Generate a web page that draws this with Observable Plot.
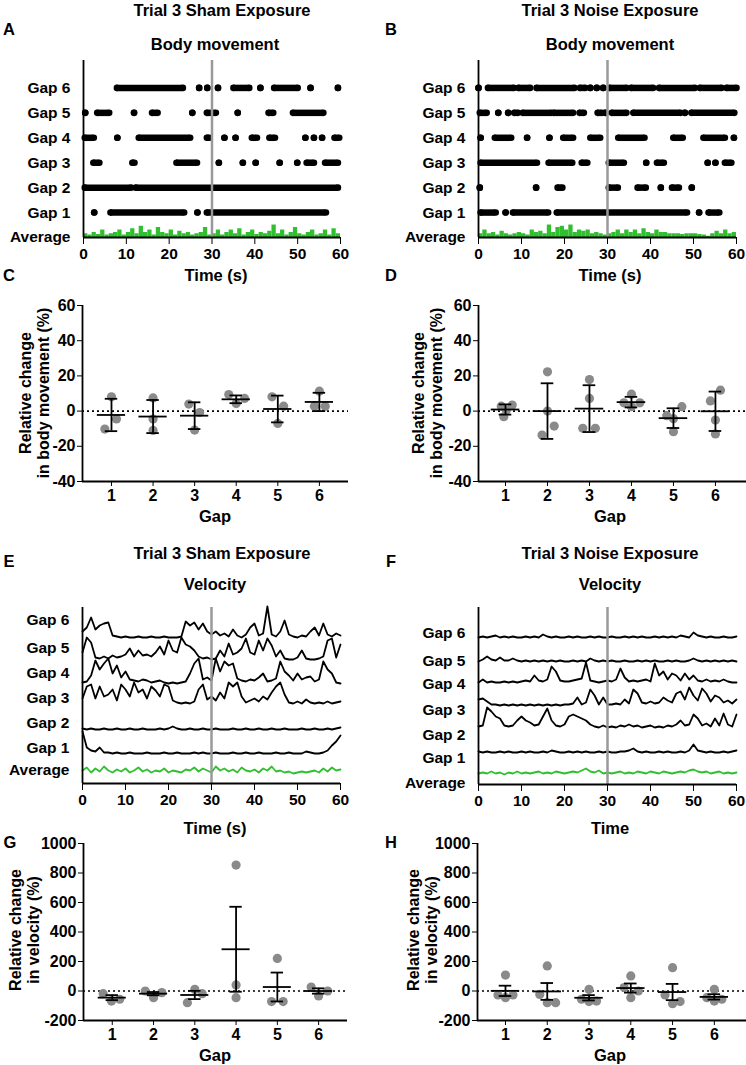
<!DOCTYPE html>
<html><head><meta charset="utf-8">
<script src="https://cdn.jsdelivr.net/npm/d3@7"></script>
<script src="https://cdn.jsdelivr.net/npm/@observablehq/plot@0.6"></script>
<style>
body{margin:0;background:#fff;}
#fig{position:relative;width:746px;height:1065px;font-family:"Liberation Sans",Arial,sans-serif;font-weight:bold;color:#000;overflow:hidden;background:#fff}
.t{position:absolute;white-space:nowrap;transform:translate(-50%,-50%);line-height:1.1;text-align:center}
</style></head><body><div id="fig"></div>
<script>
// ---------------- DATA ----------------
const rowNames = ["Average","Gap 1","Gap 2","Gap 3","Gap 4","Gap 5","Gap 6"];
const timeTicks = [0,10,20,30,40,50,60];
const stimulusTime = 30;
const gaps = [1,2,3,4,5,6];

// Body movement: runs of detected movement [start, end] in seconds
const shamMove = [
  [[2.5,2.5],[6.3,23.5],[26.6,26.6],[28.8,56.6]],                                   // Gap 1
  [[0.3,11.1],[12.2,59.4]],                                                           // Gap 2
  [[2.3,3.7],[11.4,11.9],[21.7,26.5],[31.6,31.6],[37.2,37.2],[40.2,40.2],[45.8,45.8],[49.9,49.9],[52.1,53.8],[56.4,59.4]], // Gap 3
  [[0.3,2.4],[7.9,7.9],[12.9,24.9],[28.8,29.4],[32.9,32.9],[35.5,35.5],[39.3,40.5],[43.4,44.7],[51.8,51.8],[53.8,53.8],[55.7,55.7],[58.6,59.7]], // Gap 4
  [[0.4,0.4],[3.2,6.0],[11.8,11.8],[16.0,17.3],[25.4,25.4],[28.8,30.9],[36.0,36.0],[43.2,44.3],[48.9,56.0]], // Gap 5
  [[7.8,23.2],[27.0,27.0],[28.9,28.9],[31.4,31.4],[35.0,38.7],[41.3,41.3],[44.5,50.0],[53.0,53.0],[59.4,59.4]] // Gap 6
];
const noiseMove = [
  [[0.5,4.0],[6.3,6.3],[8.0,16.2],[18.2,48.5],[51.3,51.3],[53.5,56.0]],              // Gap 1
  [[0.3,0.3],[13.4,13.4],[18.4,19.5],[30.3,32.4],[37.0,38.9],[42.4,42.4],[45.0,46.6],[49.6,49.6]], // Gap 2
  [[0.5,13.6],[16.3,21.8],[24.0,25.3],[30.3,33.8],[39.0,39.0],[41.5,43.1],[53.3,53.3],[55.1,55.1],[57.3,58.8]], // Gap 3
  [[0.5,0.5],[3.8,7.6],[11.3,11.3],[16.5,16.5],[19.7,22.0],[26.0,28.3],[32.5,38.6],[45.3,47.5],[52.3,57.3],[59.4,59.4]], // Gap 4
  [[0.3,1.9],[4.6,4.6],[6.9,6.9],[8.3,9.2],[10.3,16.9],[17.5,22.0],[23.5,24.5],[27.7,28.7],[29.5,29.5],[31.0,34.4],[36.0,47.0],[48.0,48.0],[49.5,59.5]], // Gap 5
  [[0,0],[2.2,8.2],[9.3,12.0],[13.5,22.3],[23.6,24.8],[26.0,26.0],[27.5,27.5],[29.0,29.0],[30.5,34.4],[35.5,40.6],[42.0,50.3],[51.5,56.5],[57.7,60.0]] // Gap 6
];
// Average movement (per second, row units)
const shamMoveAvg = [0.15,0.1,0.2,0.12,0.3,0.1,0.15,0.2,0.3,0.1,0.2,0.35,0.15,0.45,0.2,0.3,0.1,0.4,0.2,0.15,0.3,0.1,0.25,0.15,0.2,0.1,0.15,0.2,0.4,0.1,0.15,0.3,0.1,0.2,0.3,0.15,0.35,0.1,0.2,0.3,0.12,0.2,0.15,0.25,0.5,0.15,0.3,0.1,0.2,0.4,0.15,0.1,0.2,0.3,0.1,0.15,0.3,0.1,0.35,0.15];
const noiseMoveAvg = [0.15,0.3,0.15,0.2,0.1,0.25,0.15,0.1,0.15,0.2,0.15,0.1,0.3,0.2,0.25,0.15,0.5,0.2,0.4,0.45,0.3,0.5,0.2,0.3,0.25,0.3,0.15,0.2,0.15,0.1,0.15,0.2,0.3,0.15,0.3,0.2,0.3,0.15,0.35,0.2,0.15,0.3,0.2,0.2,0.15,0.15,0.15,0.12,0.15,0.15,0.15,0.12,0.1,0.05,0.15,0.25,0.15,0.3,0.15,0.2];

// Velocity traces (a.u., 1 sample per second, 0..60 s) — Average, Gap 1..6
const shamVelAvg = [5,8,3,7,4,9,5,3,6,4,7,3,5,8,4,6,3,5,4,7,3,5,4,3,6,5,8,4,7,5,3,9,5,7,4,6,3,8,5,4,6,3,7,5,9,4,5,3,4,2,3,4,3,4,5,3,7,4,8,5,6];
const shamVelG1 = [22,6,3,2,6,1,1,0,1,0,0,1,0,0,0,1,0,0,0,1,0,0,1,0,0,0,1,0,1,0,0,1,0,0,0,1,0,0,1,0,0,1,0,0,0,1,0,0,1,0,0,0,2,1,0,0,1,3,8,12,18];
const shamVelG2 = [1,0,1,0,0,1,0,0,1,0,0,1,0,0,1,0,0,0,1,0,1,3,1,0,0,1,0,0,1,0,0,1,0,0,0,1,0,0,1,0,0,1,0,0,1,0,0,1,0,0,0,1,0,0,1,0,0,1,0,1,2];
const shamVelG3 = [6,18,20,6,18,8,10,15,4,20,15,8,22,12,15,6,18,14,8,20,18,4,2,1,2,1,3,15,20,5,8,4,12,6,22,18,22,8,2,4,6,3,8,5,12,18,22,10,2,1,3,1,5,2,1,2,1,3,1,2,3];
const shamVelG4 = [1,2,8,23,14,20,25,10,18,6,12,4,3,2,4,3,1,2,3,1,0,1,0,1,2,10,20,25,4,6,3,25,12,22,18,20,5,3,2,4,3,6,10,2,3,5,22,12,8,3,10,4,6,7,2,4,22,14,10,1,0];
const shamVelG5 = [8,23,18,3,2,4,2,5,3,4,6,12,4,10,5,6,4,8,14,6,20,10,8,23,16,14,10,4,2,3,1,2,10,4,17,6,8,12,22,8,6,20,10,22,15,4,10,2,1,1,3,10,2,1,1,2,4,20,22,3,16];
const shamVelG6 = [6,10,20,8,12,14,15,2,1,0,1,0,0,1,0,0,1,0,0,1,0,0,0,1,16,12,15,8,14,6,3,6,2,4,1,8,2,0,3,10,14,2,4,31,3,1,6,17,3,1,0,2,1,6,10,2,14,3,1,4,2];
const noiseVelAvg = [3,4,3,5,3,4,2,4,3,5,3,4,3,4,5,3,4,3,5,4,3,4,5,4,6,8,5,4,6,3,4,3,4,5,3,4,3,5,4,3,5,4,3,5,4,3,4,5,4,6,7,5,4,5,3,4,5,3,4,3,4];
const noiseVelG1 = [1,0,1,0,0,1,0,1,0,0,1,0,1,0,0,1,0,2,1,0,0,1,0,1,0,1,0,0,1,0,1,0,0,1,1,2,4,1,0,1,0,0,1,0,1,0,0,1,0,2,8,2,1,0,1,0,0,1,0,1,2];
const noiseVelG2 = [2,3,21,17,12,10,3,2,3,8,12,8,6,3,4,12,20,8,3,2,4,12,14,12,10,8,4,2,1,3,1,2,1,3,2,4,2,3,1,2,3,1,2,1,3,2,4,8,3,4,14,10,3,5,2,10,3,15,4,2,14];
const noiseVelG3 = [6,7,4,1,1,0,1,0,1,0,1,0,1,0,1,0,1,0,1,0,1,1,2,8,1,3,16,10,1,8,1,1,2,1,6,2,16,12,3,2,4,2,3,8,5,3,12,14,6,18,10,5,17,12,4,10,8,3,5,2,6];
const noiseVelG4 = [1,4,1,2,1,1,2,1,2,1,2,3,2,8,3,2,4,17,12,3,2,2,3,4,5,21,3,2,1,2,3,2,4,15,6,2,3,2,3,4,2,20,8,12,4,10,8,3,10,4,8,3,2,4,2,3,2,4,2,1,1];
const noiseVelG5 = [0,2,5,2,1,4,1,1,3,1,0,1,0,1,0,1,0,1,0,1,0,0,1,0,1,0,3,1,0,1,0,1,0,0,1,0,0,1,0,1,0,1,0,0,1,0,1,0,0,1,3,1,0,1,0,1,0,1,0,1,0];
const noiseVelG6 = [0,1,0,1,2,0,1,0,1,0,0,1,0,1,0,3,1,0,1,0,0,1,0,1,0,0,1,0,1,0,0,1,0,0,1,0,1,0,1,0,0,1,0,1,0,1,0,2,1,0,5,2,1,0,1,0,0,1,0,0,1];
// vertical offsets of the stacked traces (a.u.) and row-label positions
const shamVelOffset = [8,30,54,79,100,123,146];
const shamVelLabelAt = [13,35,60,85,110,135,163];
const noiseVelOffset = [8,32,56,79,101,123,147];
const noiseVelLabelAt = [1,26,49,74,100,123,151];

// Relative change (%) — individual animals, horizontal jitter, mean, error bar
const shamBodyPts = [[8.1,-4.5,-10.2],[7.5,-4.5,-11],[4,-0.8,-10.8],[9.4,4.3,7.2],[8.1,2.8,-7],[11.3,2.8,2.8]];
const shamBodyJit = [[0,0.12,-0.16],[0,0,0],[-0.14,0.12,0],[-0.18,0,0.2],[-0.14,0.14,0],[0,-0.12,0.14]];
const shamBodyMean = [-2.2,-3.1,-2.6,6.7,1.2,5.2];
const shamBodyErr = [9.2,9.4,7.6,2.2,7.6,5.2];
const noiseBodyPts = [[2.8,3.4,-3.2,0.5],[22.3,0,-8.5,-13.6],[17.9,7.2,-9.8,-9.8],[9.6,4.7,4.7,2.5],[2.5,-2.6,-4.3,-11.7],[11.9,5.8,-5.1,-13]];
const noiseBodyJit = [[-0.1,0.16,-0.04,0.02],[0,0,0.16,-0.13],[0,0,-0.16,0.14],[0,-0.18,0.2,0],[0.2,-0.16,0,0],[0.12,-0.12,0,0]];
const noiseBodyMean = [0.9,0,1.4,5.1,-4,-0.1];
const noiseBodyErr = [2.9,15.8,13.3,3,5.6,11.2];
const shamVelPts = [[-18,-68,-56],[0,-45,-11],[-79,11,-18],[854,41,-45],[221,-72,-72],[27,-34,0]];
const shamVelJit = [[-0.22,-0.02,0.18],[-0.2,0,0.2],[-0.18,0,0.18],[0,0,0],[0,-0.14,0.14],[-0.18,0,0.22]];
const shamVelMean = [-45,-18,-27,283,27,0];
const shamVelErr = [17,11,28,288,98,18];
const noiseVelPts = [[108,-27,-27,-45],[170,-23,-79,-79],[11,-56,-68,-72],[102,23,0,-45],[158,-27,-86,-72],[11,-45,-56,-68]];
const noiseVelJit = [[0,-0.18,0.18,0],[0,-0.18,0,0.2],[0,-0.18,0.18,0],[0,-0.16,0.18,0],[0,-0.18,0,0.18],[0,-0.18,0.18,0]];
const noiseVelMean = [1,-3,-46,20,-7,-40];
const noiseVelErr = [35,57,18,31,55,18];

const bodyTicks = [-40,-20,0,20,40,60];
const velTicks = [-200,0,200,400,600,800,1000];

// ---------------- DRAWING ----------------
const fig = document.getElementById("fig");
const GREEN = "#2fbf2f";
const style = {fontFamily:'"Liberation Sans", Arial, sans-serif', fontWeight:"bold", fontSize:"15px", color:"#000", background:"none", overflow:"visible"};

function place(svg, left, top){ svg.style.position="absolute"; svg.style.left=left+"px"; svg.style.top=top+"px"; fig.appendChild(svg); }
function text(html, x, y, size, rot){
  const d=document.createElement("div"); d.className="t"; d.innerHTML=html;
  d.style.left=x+"px"; d.style.top=y+"px"; d.style.fontSize=size+"px";
  if(rot) d.style.transform="translate(-50%,-50%) rotate(-90deg)";
  fig.appendChild(d);
}

function movementPanel(runsByGap, avg, m){
  const runs = runsByGap.flatMap((list,gi)=>list.map(([s,e])=>({s,e,row:gi+1})));
  const ends = runs.flatMap(r=>[{t:r.s,row:r.row},{t:r.e,row:r.row}]);
  const bars = avg.map((v,i)=>({t:i,v}));
  return Plot.plot({
    width:373, height:230, marginTop:5, marginBottom:48, marginLeft:m.left, marginRight:m.right,
    x:{domain:[0,60]}, y:{domain:[0,7.1]}, style,
    marks:[
      Plot.rect(bars,{x1:"t",x2:d=>d.t+1,y1:0,y2:"v",fill:GREEN}),
      Plot.ruleY(runs,{x1:"s",x2:"e",y:"row",strokeWidth:6.5,stroke:"#000"}),
      Plot.dot(ends,{x:"t",y:"row",r:3.3,fill:"#000"}),
      Plot.ruleX([stimulusTime],{stroke:"#999",strokeWidth:2.5}),
      Plot.ruleX([0],{strokeWidth:1.8}),
      Plot.ruleY([0],{strokeWidth:1.8}),
      Plot.axisX({ticks:timeTicks,tickSize:7,tickPadding:3,tickFormat:String,label:null,fontSize:15.5}),
      Plot.axisY({ticks:[0,1,2,3,4,5,6],tickSize:0,tickPadding:13,tickFormat:i=>rowNames[i],label:null,fontSize:15.5})
    ]});
}

function velocityPanel(traces, offset, labelAt, yMax, m){
  const rows = traces.flatMap((arr,k)=>arr.map((v,t)=>({t, y:offset[k]+v, k})));
  return Plot.plot({
    width:373, height:215, marginTop:7, marginBottom:m.bottom, marginLeft:m.left, marginRight:m.right,
    x:{domain:[0,60]}, y:{domain:[0,yMax]}, style,
    marks:[
      Plot.line(rows.filter(d=>d.k===0),{x:"t",y:"y",stroke:GREEN,strokeWidth:1.8}),
      Plot.line(rows.filter(d=>d.k>0),{x:"t",y:"y",z:"k",stroke:"#000",strokeWidth:1.8}),
      Plot.ruleX([stimulusTime],{stroke:"#999",strokeWidth:2.5}),
      Plot.ruleX([0],{strokeWidth:1.8}),
      Plot.ruleY([0],{strokeWidth:1.8}),
      Plot.axisX({ticks:timeTicks,tickSize:7,tickPadding:3,tickFormat:String,label:null,fontSize:15.5}),
      Plot.axisY({ticks:labelAt,tickSize:0,tickPadding:13,tickFormat:(d,i)=>rowNames[i],label:null,fontSize:15.5})
    ]});
}

function scatterPanel(pts, jit, mean, err, yDomain, yTicks, xDomain, m){
  const P = pts.flatMap((arr,gi)=>arr.map((v,j)=>({x:gaps[gi]+jit[gi][j], v})));
  const S = gaps.map((g,i)=>({g, mean:mean[i], lo:mean[i]-err[i], hi:mean[i]+err[i]}));
  return Plot.plot({
    width:373, height:m.height, marginTop:m.top, marginBottom:m.bottom, marginLeft:m.left, marginRight:m.right,
    x:{domain:xDomain}, y:{domain:yDomain}, style,
    marks:[
      Plot.ruleY([0],{strokeDasharray:"2,3",strokeWidth:1.6}),
      Plot.dot(P,{x:"x",y:"v",r:4.6,fill:"#8a8a8a"}),
      Plot.ruleX(S,{x:"g",y1:"lo",y2:"hi",strokeWidth:1.8}),
      Plot.ruleY(S,{y:"hi",x1:d=>d.g-0.15,x2:d=>d.g+0.15,strokeWidth:1.8}),
      Plot.ruleY(S,{y:"lo",x1:d=>d.g-0.15,x2:d=>d.g+0.15,strokeWidth:1.8}),
      Plot.ruleY(S,{y:"mean",x1:d=>d.g-0.34,x2:d=>d.g+0.34,strokeWidth:1.8}),
      Plot.ruleX([xDomain[0]],{strokeWidth:1.8}),
      Plot.ruleY([yDomain[0]],{strokeWidth:1.8}),
      Plot.axisX({ticks:gaps,tickSize:5,tickPadding:3,tickFormat:String,label:null,fontSize:16}),
      Plot.axisY({ticks:yTicks,tickSize:5,tickPadding:2,tickFormat:String,label:null,fontSize:16})
    ]});
}

// A, B
place(movementPanel(shamMove, shamMoveAvg, {left:83,right:33}), 0, 55);
place(movementPanel(noiseMove, noiseMoveAvg, {left:105,right:10}), 373, 55);
// C, D
place(scatterPanel(shamBodyPts, shamBodyJit, shamBodyMean, shamBodyErr, [-40,60], bodyTicks, [0.303,6.70], {height:230,top:15,bottom:39,left:82,right:25}), 0, 290);
place(scatterPanel(noiseBodyPts, noiseBodyJit, noiseBodyMean, noiseBodyErr, [-40,60], bodyTicks, [0.357,6.74], {height:230,top:15,bottom:39,left:105,right:0}), 373, 290);
// E, F
place(velocityPanel([shamVelAvg,shamVelG1,shamVelG2,shamVelG3,shamVelG4,shamVelG5,shamVelG6], shamVelOffset, shamVelLabelAt, 176, {left:82,right:33,bottom:32}), 0, 600);
place(velocityPanel([noiseVelAvg,noiseVelG1,noiseVelG2,noiseVelG3,noiseVelG4,noiseVelG5,noiseVelG6], noiseVelOffset, noiseVelLabelAt, 177, {left:105,right:10,bottom:31}), 373, 600);
// G, H
place(scatterPanel(shamVelPts, shamVelJit, shamVelMean, shamVelErr, [-200,1000], velTicks, [0.303,6.70], {height:235,top:13,bottom:45,left:83,right:26}), 0, 830);
place(scatterPanel(noiseVelPts, noiseVelJit, noiseVelMean, noiseVelErr, [-200,1000], velTicks, [0.33,6.77], {height:235,top:13,bottom:45,left:104,right:0}), 373, 830);

// Titles and labels
text("Trial 3 Sham Exposure",222,10,16.5); text("Body movement",215,44,16.5);
text("Trial 3 Noise Exposure",610,10,16.5); text("Body movement",610,44,16.5);
text("Trial 3 Sham Exposure",222,553,16.5); text("Velocity",215,584,16.5);
text("Trial 3 Noise Exposure",610,553,16.5); text("Velocity",610,584,16.5);
text("A",9,29,16.5); text("B",391,29,16.5); text("C",9,275,16.5); text("D",391,275,16.5);
text("E",9,561,16.5); text("F",391,561,16.5); text("G",10,842,16.5); text("H",391,842,16.5);
text("Time (s)",216,275,16.5); text("Time (s)",610,275,16.5);
text("Gap",215,516,16.5); text("Gap",610,516,16.5);
text("Time (s)",215,828,16.5); text("Time",610,828,16.5);
text("Gap",215,1055,16.5); text("Gap",610,1055,16.5);
text("Relative change<br>in body movement (%)",35,393,16,true);
text("Relative change<br>in body movement (%)",428,393,16,true);
text("Relative change<br>in velocity (%)",25,930,16,true);
text("Relative change<br>in velocity (%)",423,930,16,true);
</script></body></html>
